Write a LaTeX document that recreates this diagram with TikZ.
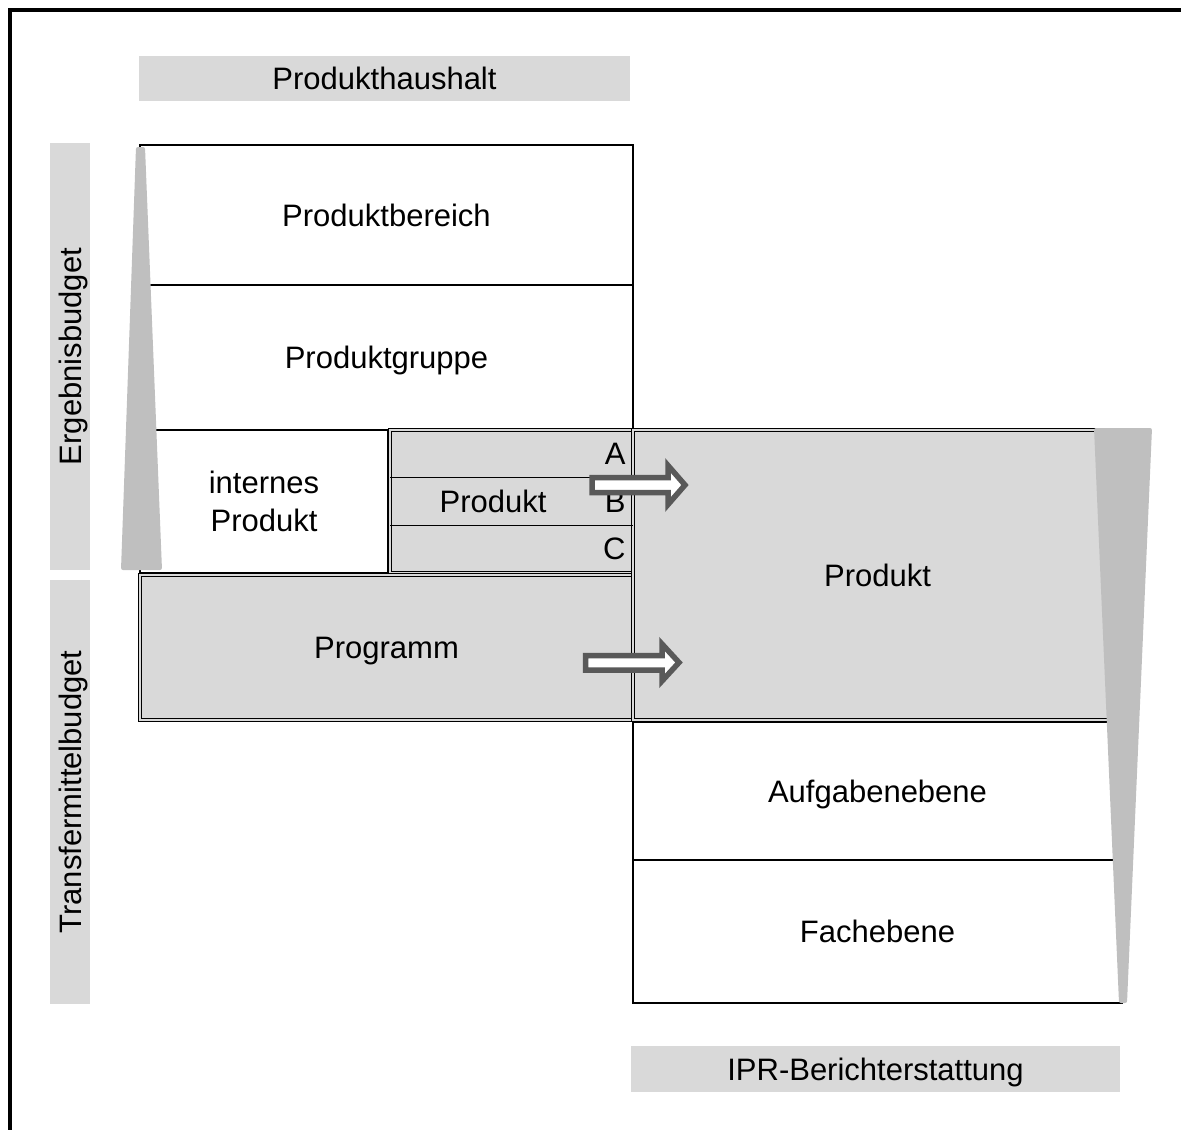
\documentclass[tikz,border=0pt]{standalone}
\usepackage{fontspec}
\setmainfont{Liberation Sans}
\usepackage{tikz}
\usetikzlibrary{positioning,calc}
\definecolor{feldgrau}{HTML}{D9D9D9}
\definecolor{keilgrau}{HTML}{BFBFBF}
\definecolor{pfeilgrau}{HTML}{595959}

\begin{document}
\begin{tikzpicture}[x=1pt,y=-1pt,font=\fontsize{31}{38}\selectfont]
	\tikzstyle{titel} = [rectangle, fill=feldgrau, inner sep=0pt, outer sep=0pt, text depth=0pt]
	\tikzstyle{feld} = [rectangle, draw=black, line width=1.6pt, inner sep=0pt, outer sep=0pt, text depth=0pt]
	\tikzstyle{grau} = [feld, fill=feldgrau, double=feldgrau, double distance=1.4pt, line width=1.6pt]
	\tikzstyle{keil} = [fill=keilgrau, rounded corners=2pt]
	\tikzstyle{pfeil} = [draw=pfeilgrau, fill=white, line width=5.5pt]
  \useasboundingbox (0,0) rectangle (1181,1130);
  \draw[line width=4pt] (10,1130) |- (1181,10);

  % Beschriftungen
  \node(haushalt)[titel, minimum width=491pt, minimum height=45pt] at (384.5,78.5) {Produkthaushalt};
  \node(ipr)[titel, minimum width=489pt, minimum height=46pt] at (875.5,1069) {IPR-Berichterstattung};
  \node(ergebnis)[titel, rotate=90, minimum width=427pt, minimum height=40pt] at (70,356.5) {Ergebnisbudget};
  \node(transfer)[titel, rotate=90, minimum width=424pt, minimum height=40pt] at (70,792) {Transfermittelbudget};

  % Produkthaushalt
  \node(bereich)[feld, anchor=north west, minimum width=493pt, minimum height=140pt] at (140,145) {Produktbereich};
  \node(gruppe)[feld, minimum width=493pt, minimum height=145pt, below=0pt of bereich] {Produktgruppe};
  \node(intern)[feld, align=center, minimum width=248pt, minimum height=143pt, below=0pt of gruppe.south west, anchor=north west] {internes\\Produkt};
  \node(abc)[grau, minimum width=243pt, minimum height=143pt, right=2pt of intern] {};
  \node(programm)[grau, minimum width=493pt, minimum height=145pt, below=2pt of intern.south west, anchor=north west] {Programm};

  % IPR
  \node(produkt)[grau, minimum width=489pt, minimum height=290pt, right=0pt of abc.north east, anchor=north west] {Produkt};
  \node(aufgabe)[feld, minimum width=489pt, minimum height=138pt, below=2pt of produkt] {Aufgabenebene};
  \node(fach)[feld, minimum width=489pt, minimum height=143pt, below=0pt of aufgabe] {Fachebene};

  \draw[line width=1.6pt] ($(abc.north west)!1/3!(abc.south west)$) -- ($(abc.north east)!1/3!(abc.south east)$);
  \draw[line width=1.6pt] ($(abc.north west)!2/3!(abc.south west)$) -- ($(abc.north east)!2/3!(abc.south east)$);
  \node(abcprodukt)[text depth=0pt] at ($(abc.west)+(103,0)$) {Produkt};
  \node(a)[anchor=east, text depth=0pt] at ($(abc.north east)!1/6!(abc.south east)+(-4,0)$) {A};
  \node(b)[anchor=east, text depth=0pt] at ($(abc.north east)!3/6!(abc.south east)+(-4,0)$) {B};
  \node(c)[anchor=east, text depth=0pt] at ($(abc.north east)!5/6!(abc.south east)+(-4,0)$) {C};

  % Keile
  \fill[keil] (136,147) -- (145,147) -- (162,570) -- (121,570) -- cycle;
  \fill[keil] (1094,428) -- (1152,428) -- (1127,1003) -- (1119,1003) -- cycle;

  % Pfeile
  \draw[pfeil] (592,477.5) -- ++(76,0) -- ++(0,-12) -- ++(17,19.5) -- ++(-17,19.5) -- ++(0,-12) -- ++(-76,0) -- cycle;
  \draw[pfeil] (585.5,655.5) -- ++(76.5,0) -- ++(0,-11.5) -- ++(17,18.5) -- ++(-17,18.5) -- ++(0,-11) -- ++(-76.5,0) -- cycle;
\end{tikzpicture}
\end{document}
